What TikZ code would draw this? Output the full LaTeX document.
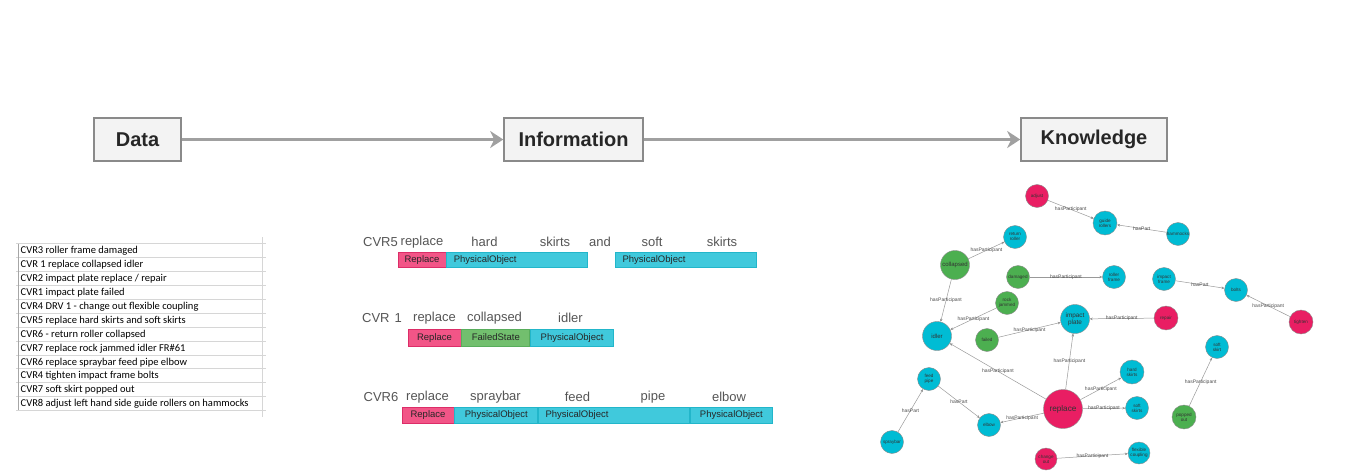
\documentclass[tikz,border=0pt]{standalone}
\usepackage{fontspec}
\setmainfont{Liberation Sans}
\newfontfamily\sheetfont{Carlito}
\usetikzlibrary{arrows.meta,positioning}

\definecolor{boxfill}{HTML}{F3F3F3}
\definecolor{boxline}{HTML}{8A8A8A}
\definecolor{flowgray}{HTML}{A0A0A0}
\definecolor{gridgray}{HTML}{D6D6D6}
\definecolor{wordgray}{HTML}{555555}
\definecolor{tagpink}{HTML}{F25587}
\definecolor{tagpinkline}{HTML}{DC2D68}
\definecolor{tagcyan}{HTML}{40C9DC}
\definecolor{tagcyanline}{HTML}{22B6CA}
\definecolor{taggreen}{HTML}{72BF6E}
\definecolor{taggreenline}{HTML}{58AD5C}
\definecolor{actpink}{HTML}{E91E63}
\definecolor{objcyan}{HTML}{00BCD4}
\definecolor{stategreen}{HTML}{4CAF50}

\begin{document}
\begin{tikzpicture}[x=1pt,y=-1pt,>={Stealth[length=3pt,width=2.6pt]},
    stage/.style={draw=boxline,line width=1.6pt,fill=boxfill,minimum height=43pt,
      font=\fontsize{20}{24}\selectfont\bfseries,text=black!85},
    flow/.style={-{Stealth[length=13pt,width=17pt,inset=4pt]},line width=3pt,draw=flowgray},
    cell/.style={anchor=west,inner sep=0pt,font=\sheetfont\fontsize{10.5}{12}\selectfont},
    word/.style={inner sep=0pt,font=\fontsize{13}{15}\selectfont,text=wordgray},
    tag/.style={line width=0.8pt,inner xsep=0pt,inner ysep=0pt,text height=6.8pt,text depth=1.8pt,
      font=\fontsize{9.5}{11}\selectfont,text=black!85},
    act tag/.style={tag,fill=tagpink,draw=tagpinkline},
    obj tag/.style={tag,fill=tagcyan,draw=tagcyanline},
    state tag/.style={tag,fill=taggreen,draw=taggreenline},
    left tag/.style={align=left,inner xsep=7pt,text width=#1},
    main node/.style={circle,draw=black!45,line width=0.4pt,inner sep=0pt,align=center,
      minimum size=23pt,font=\fontsize{4.6}{5}\selectfont,text=black!80},
    act node/.style={main node,fill=actpink},
    obj node/.style={main node,fill=objcyan},
    state node/.style={main node,fill=stategreen},
    rel/.style={->,draw=black!40,line width=0.5pt}]

\useasboundingbox (0,0) rectangle (1356,476);

% data -> information -> knowledge
\node[stage,minimum width=87pt] (data) at (137.5,139.5) {Data};
\node[stage,minimum width=139pt] (info) at (573.5,139.5) {Information};
\node[stage,minimum width=146pt] (know) at (1094,139.5) {Knowledge};
\draw[flow] (data) -- (info);
\draw[flow] (info) -- (know);

% spreadsheet
\foreach \i in {0,...,12}
  \draw[gridgray,line width=0.5pt] (16,243.6+13.9*\i) -- (266,243.6+13.9*\i);
\draw[black!35,line width=0.5pt] (18,243.6) -- (18,410.4);
\draw[gridgray,line width=0.5pt] (262,237) -- (262,417);
\foreach \txt [count=\i from 0] in {CVR3 roller frame damaged,CVR 1 replace collapsed idler,
    CVR2 impact plate replace / repair,CVR1 impact plate failed,
    CVR4 DRV 1 - change out flexible coupling,CVR5 replace hard skirts and soft skirts,
    CVR6 - return roller collapsed,CVR7 replace rock jammed idler FR\#61,
    CVR6 replace spraybar feed pipe elbow,CVR4 tighten impact frame bolts,
    CVR7 soft skirt popped out,CVR8 adjust left hand side guide rollers on hammocks}
  \node[cell] (row\i) at (20.5,251+13.9*\i) {\txt};

% tagged sentences
\foreach \w/\x [count=\k] in {CVR5/380.5,replace/422,hard/484.5,skirts/555,and/600,soft/652,skirts/722}
  \node[word] (wa\k) at (\x,242) {\w};
\node[act tag,minimum width=48pt,minimum height=15pt] (ta1) at (422,259.5) {Replace};
\node[obj tag,left tag=127pt,minimum height=15pt,right=0pt of ta1] (ta2) {PhysicalObject};
\node[obj tag,left tag=127pt,minimum height=15pt,right=27pt of ta2] (ta3) {PhysicalObject};

\foreach \w/\x [count=\k] in {CVR\hspace{5pt}1/382,replace/434.5,collapsed/494.5,idler/570.5}
  \node[word] (wb\k) at (\x,318) {\w};
\node[act tag,minimum width=53pt,minimum height=17pt] (tb1) at (434.5,337.5) {Replace};
\node[state tag,minimum width=68pt,minimum height=17pt,right=0pt of tb1] (tb2) {FailedState};
\node[obj tag,minimum width=83pt,minimum height=17pt,right=0pt of tb2] (tb3) {PhysicalObject};

\foreach \w/\x [count=\k] in {CVR6/381,replace/427.5,spraybar/495.5,feed/577.5,pipe/653,elbow/729}
  \node[word] (wc\k) at (\x,397) {\w};
\node[act tag,minimum width=52pt,minimum height=16pt] (tc1) at (428,415) {Replace};
\node[obj tag,minimum width=83pt,minimum height=16pt,right=0pt of tc1] (tc2) {PhysicalObject};
\node[obj tag,left tag=137pt,minimum height=16pt,right=0pt of tc2] (tc3) {PhysicalObject};
\node[obj tag,minimum width=82pt,minimum height=16pt,right=0pt of tc3] (tc4) {PhysicalObject};

% knowledge graph
\node[act node] (adjust) at (1037,196) {adjust};
\node[obj node,minimum size=24pt] (guide) at (1105,223) {guide\\rollers};
\node[obj node] (hammocks) at (1178,234) {hammocks};
\node[obj node] (retroller) at (1015,237) {return\\roller};
\node[state node,minimum size=29pt,font=\fontsize{6}{6}\selectfont] (collapsed) at (955,265) {collapsed};
\node[state node] (damaged) at (1018,277) {damaged};
\node[obj node] (rframe) at (1114,277) {roller\\frame};
\node[obj node] (iframe) at (1164,279) {impact\\frame};
\node[obj node] (bolts) at (1236,290) {bolts};
\node[act node,minimum size=24pt] (tighten) at (1301,322) {tighten};
\node[state node] (jammed) at (1007,303) {rock\\jammed};
\node[obj node,minimum size=29pt,font=\fontsize{6.4}{6.8}\selectfont] (plate) at (1075,319) {impact\\plate};
\node[act node,minimum size=24pt] (repair) at (1166,318) {repair};
\node[obj node,minimum size=29pt,font=\fontsize{6}{6}\selectfont] (idler) at (937,336) {idler};
\node[state node] (failed) at (987,340) {failed};
\node[obj node] (softskirt) at (1217,347) {soft\\skirt};
\node[obj node] (feedpipe) at (929,379) {feed\\pipe};
\node[obj node,minimum size=24pt] (hardskirts) at (1132,372) {hard\\skirts};
\node[act node,minimum size=39pt,font=\fontsize{8.2}{9}\selectfont] (replace) at (1063,409) {replace};
\node[obj node] (softskirts) at (1137,408) {soft\\skirts};
\node[state node,minimum size=24pt] (popped) at (1184,417) {popped\\out};
\node[obj node] (elbow) at (989,425) {elbow};
\node[obj node] (spraybar) at (892,442) {spraybar};
\node[act node,minimum size=22pt] (changeout) at (1046,459) {change\\out};
\node[obj node,minimum size=22pt] (coupling) at (1139,453) {flexible\\coupling};

\path[rel,every node/.style={font=\fontsize{5}{5}\selectfont,text=black!70,inner sep=0pt}]
  (adjust) edge node {hasParticipant} (guide)
  (hammocks) edge node {hasPart} (guide)
  (collapsed) edge node {hasParticipant} (retroller)
  (collapsed) edge node {hasParticipant} (idler)
  (damaged) edge node {hasParticipant} (rframe)
  (jammed) edge node {hasParticipant} (idler)
  (failed) edge node {hasParticipant} (plate)
  (repair) edge node {hasParticipant} (plate)
  (replace) edge node {hasParticipant} (plate)
  (replace) edge node {hasParticipant} (idler)
  (replace) edge node {hasParticipant} (hardskirts)
  (replace) edge node {hasParticipant} (softskirts)
  (replace) edge node {hasParticipant} (elbow)
  (feedpipe) edge node {hasPart} (elbow)
  (spraybar) edge node {hasPart} (feedpipe)
  (iframe) edge node {hasPart} (bolts)
  (tighten) edge node {hasParticipant} (bolts)
  (popped) edge node {hasParticipant} (softskirt)
  (changeout) edge node {hasParticipant} (coupling);
\end{tikzpicture}
\end{document}
